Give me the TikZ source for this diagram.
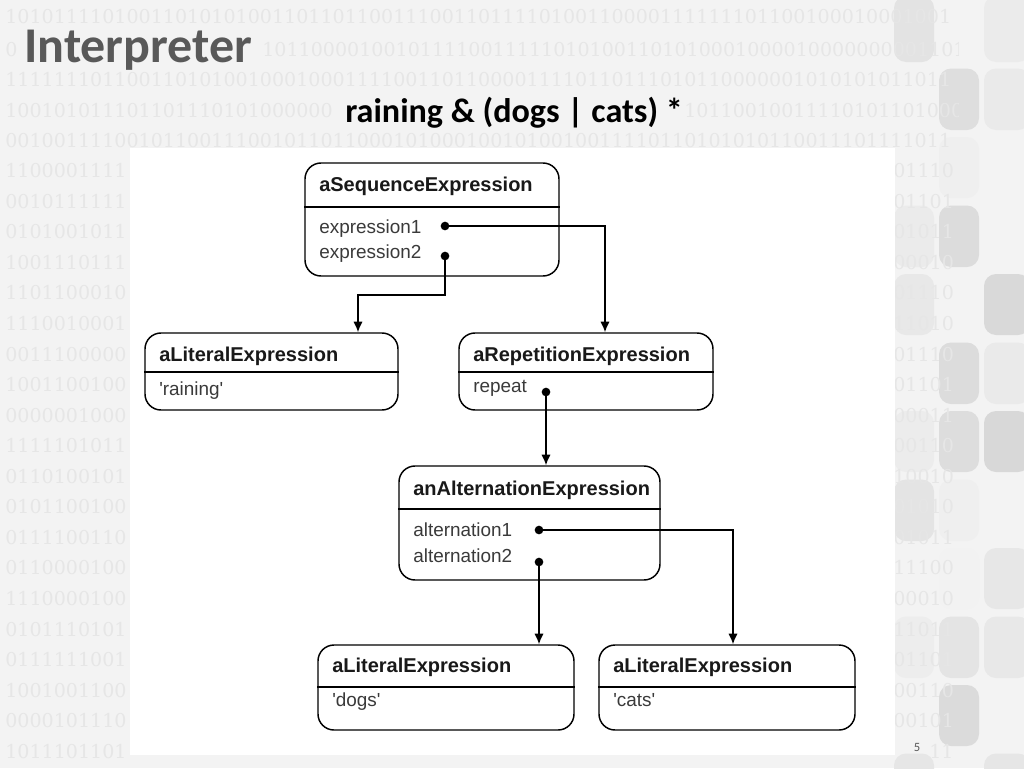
\documentclass[tikz,border=0pt]{standalone}
\usepackage{fontspec}
\setmainfont{Liberation Sans}
\newfontfamily\titlefont{Carlito}
\newfontfamily\bitfont{DejaVu Serif}
\usetikzlibrary{arrows.meta,fit,calc}
\definecolor{slidebg}{HTML}{F3F3F3}
\definecolor{bitcol}{HTML}{E6E6E6}
\definecolor{titlecol}{HTML}{595959}
\definecolor{attrcol}{HTML}{3A3A3A}
\begin{document}
\begin{tikzpicture}[x=0.75pt,y=-0.75pt,
  obj/.style={draw=black, line width=1.1pt, rounded corners=12pt, inner sep=0pt, fill=white},
  divider/.style={line width=1.1pt},
  hdr/.style={font=\bfseries\fontsize{15}{18}\selectfont, text=black!90, anchor=base west, inner sep=0pt},
  attr/.style={font=\fontsize{14.2}{17}\selectfont, text=attrcol, anchor=base west, inner sep=0pt},
  dot/.style={circle, fill=black, inner sep=0pt, minimum size=6.5pt},
  conn/.style={line width=1.1pt, -{Latex[length=8pt,width=7pt]}},
  bits/.style={font=\bitfont\fontsize{14.3}{16}\selectfont, text=bitcol, anchor=base west, inner sep=0pt},
  sq/.style={rounded corners=9pt}]
\useasboundingbox (0,0) rectangle (1024,768);
\fill[slidebg] (0,0) rectangle (1024,768);
% decorative squares
\fill[sq,fill={rgb,255:red,227;green,227;blue,227}] (894,-4) rectangle (934,62);
\fill[sq,fill={rgb,255:red,235;green,235;blue,235}] (984,-4) rectangle (1030,62);
\fill[sq,fill={rgb,255:red,222;green,222;blue,222}] (939,68.5) rectangle (979,130);
\fill[sq,fill={rgb,255:red,234;green,234;blue,234}] (984,68.5) rectangle (1030,130);
\fill[sq,fill={rgb,255:red,239;green,239;blue,239}] (939,137) rectangle (979,198);
\fill[sq,fill={rgb,255:red,235;green,235;blue,235}] (894,205.5) rectangle (934,267);
\fill[sq,fill={rgb,255:red,220;green,220;blue,220}] (939,205.5) rectangle (979,267);
\fill[sq,fill={rgb,255:red,232;green,232;blue,232}] (894,274) rectangle (934,335);
\fill[sq,fill={rgb,255:red,217;green,217;blue,217}] (984,274) rectangle (1030,335);
\fill[sq,fill={rgb,255:red,220;green,220;blue,220}] (939,342.5) rectangle (979,404);
\fill[sq,fill={rgb,255:red,234;green,234;blue,234}] (984,342.5) rectangle (1030,404);
\fill[sq,fill={rgb,255:red,236;green,236;blue,236}] (894,411) rectangle (934,472);
\fill[sq,fill={rgb,255:red,221;green,221;blue,221}] (939,411) rectangle (979,472);
\fill[sq,fill={rgb,255:red,216;green,216;blue,216}] (984,411) rectangle (1030,472);
\fill[sq,fill={rgb,255:red,228;green,228;blue,228}] (894,479.5) rectangle (934,541);
\fill[sq,fill={rgb,255:red,239;green,239;blue,239}] (939,479.5) rectangle (979,541);
\fill[sq,fill={rgb,255:red,242;green,242;blue,242}] (939,548) rectangle (979,609);
\fill[sq,fill={rgb,255:red,231;green,231;blue,231}] (984,548) rectangle (1030,609);
\fill[sq,fill={rgb,255:red,237;green,237;blue,237}] (894,616.5) rectangle (934,678);
\fill[sq,fill={rgb,255:red,228;green,228;blue,228}] (939,616.5) rectangle (979,678);
\fill[sq,fill={rgb,255:red,232;green,232;blue,232}] (984,616.5) rectangle (1030,678);
\fill[sq,fill={rgb,255:red,219;green,219;blue,219}] (939,685) rectangle (979,746);
\fill[sq,fill={rgb,255:red,230;green,230;blue,230}] (894,753.5) rectangle (934,800);
\fill[sq,fill={rgb,255:red,230;green,230;blue,230}] (984,753.5) rectangle (1030,800);
% binary background
\begin{scope}
\clip (0,0) rectangle (958,768);
\node[bits] (bits0) at (5,23) {101011110100110101010011011011001110011011110100110000111111101100100010001001};
\node[bits] (bits1a) at (5,56) {0};
\node[bits] (bits1b) at (262,56) {1011000010010111100111110101001101010001000010000000001101};
\node[bits] (bits2) at (5,86) {111111101100110101001000100011110011011000011110110111010110000001010101011011};
\node[bits] (bits3a) at (5,117) {100101011101101110101000000};
\node[bits] (bits3b) at (684,117) {1011001001111010110100011};
\node[bits] (bits4) at (5,147) {001001111001011001110010110110001010001001010010011110110101010110011101111011};
\foreach \k/\l/\r in {
 5/1100001111/01110, 6/0010111111/01101, 7/0101001011/01011, 8/1001110111/00010,
 9/1101100010/01110, 10/1110010001/11010, 11/0011100000/01110, 12/1001100100/01101,
 13/0000001000/00011, 14/1111101011/00110, 15/0110100101/10010, 16/0101100100/01010,
 17/0111100110/01011, 18/0110000100/11100, 19/1110000100/00010, 20/0101110101/11011,
 21/0111111001/01101, 22/1001001100/00110, 23/0000101110/00101}
 { \node[bits] (bitsl\k) at (5,{25+30.55*\k}) {\l};
   \node[bits] (bitsr\k) at (893,{25+30.55*\k}) {\r}; }
\node[bits] (bitsl24) at (5,{25+30.55*24}) {1011101101};
\node[bits] (bitsr24) at (929,{25+30.55*24}) {11};
\end{scope}
% titles
\node[anchor=base west, inner sep=0pt, text=titlecol,
  font=\titlefont\bfseries\fontsize{37.5}{40}\selectfont] (title) at (24,62) {Interpreter};
\node[anchor=base west, inner sep=0pt, text=black,
  font=\titlefont\bfseries\fontsize{25.6}{28}\selectfont] (subtitle) at (345,122) {raining \& (dogs | cats) *};
\node[anchor=center, inner sep=0pt, text=titlecol, font=\titlefont\fontsize{9.5}{11}\selectfont] (page) at (917,747) {5};
% diagram canvas
\fill[white] (130,148) rectangle (895,755);
% boxes
\node[obj, fit={(305,163) (559,276)}] (seq) {};
\draw[divider] (seq.west |- 0,207) -- (seq.east |- 0,207);
\node[hdr] (seqh) at (319,191) {aSequenceExpression};
\node[attr] (seqa1) at (319,233) {expression1};
\node[attr] (seqa2) at (319,258) {expression2};
\node[dot] (sd1) at (445,226) {};
\node[dot] (sd2) at (445,256) {};

\node[obj, fit={(145,333) (398,410)}] (lit1) {};
\draw[divider] (lit1.west |- 0,372) -- (lit1.east |- 0,372);
\node[hdr] (lit1h) at (159,361) {aLiteralExpression};
\node[attr] (lit1a) at (159,395) {\textquotesingle raining\textquotesingle};

\node[obj, fit={(459,333) (713,410)}] (rep) {};
\draw[divider] (rep.west |- 0,372) -- (rep.east |- 0,372);
\node[hdr] (reph) at (473,361) {aRepetitionExpression};
\node[attr] (repa) at (473,392) {repeat};
\node[dot] (rd) at (546,392) {};

\node[obj, fit={(399,466) (660,580)}] (alt) {};
\draw[divider] (alt.west |- 0,509) -- (alt.east |- 0,509);
\node[hdr] (alth) at (413,495) {anAlternationExpression};
\node[attr] (alta1) at (413,536) {alternation1};
\node[attr] (alta2) at (413,562) {alternation2};
\node[dot] (ad1) at (539,530) {};
\node[dot] (ad2) at (539,562) {};

\node[obj, fit={(318,645) (574,730)}] (dogs) {};
\draw[divider] (dogs.west |- 0,687) -- (dogs.east |- 0,687);
\node[hdr] (dogsh) at (332,672) {aLiteralExpression};
\node[attr] (dogsa) at (332,706) {\textquotesingle dogs\textquotesingle};

\node[obj, fit={(599,645) (855,730)}] (cats) {};
\draw[divider] (cats.west |- 0,687) -- (cats.east |- 0,687);
\node[hdr] (catsh) at (613,672) {aLiteralExpression};
\node[attr] (catsa) at (613,706) {\textquotesingle cats\textquotesingle};

% connectors
\draw[conn] (sd1.center) -| (605,0 |- rep.north);
\draw[conn] (sd2.center) -- (sd2.center |- 0,295) -| (358,0 |- lit1.north);
\draw[conn] (rd.center) -- (rd.center |- alt.north);
\draw[conn] (ad1.center) -| (733,0 |- cats.north);
\draw[conn] (ad2.center) -- (ad2.center |- dogs.north);
\end{tikzpicture}
\end{document}
